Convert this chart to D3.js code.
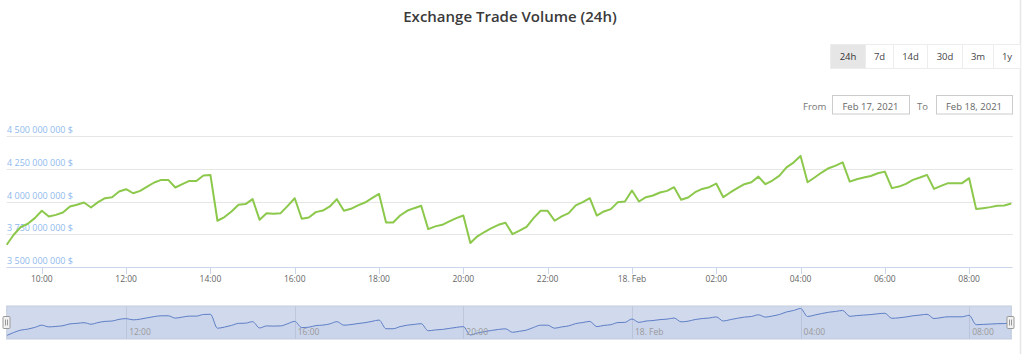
<!DOCTYPE html>
<html>
<head>
<meta charset="utf-8">
<script src="https://cdn.jsdelivr.net/npm/d3@7"></script>
<style>
  body { margin: 0; background: #fff; }
  svg { display: block; font-family: "Open Sans", sans-serif; }
</style>
</head>
<body>
<div id="chart"></div>
<script>
const chartTitle = 'Exchange Trade Volume (24h)';
const rangeButtons = ['24h', '7d', '14d', '30d', '3m', '1y'];
const selectedRange = '24h';
const fromDate = 'Feb 17, 2021';
const toDate = 'Feb 18, 2021';

// one reading every 10 minutes, starting Feb 17 09:10
const firstTime = new Date(2021, 1, 17, 9, 10);
const stepMinutes = 10;

// trade volume, millions of $
const volumes = [
  3670, 3746, 3805, 3830, 3873, 3929, 3886, 3898, 3916, 3962, 3975, 3992,
  3954, 3995, 4025, 4033, 4076, 4094, 4063, 4081, 4114, 4145, 4165, 4165,
  4107, 4132, 4157, 4157, 4198, 4203, 3853, 3881, 3924, 3975, 3980, 4018,
  3860, 3911, 3906, 3911, 3967, 4025, 3868, 3878, 3919, 3931, 3962, 4018,
  3929, 3944, 3970, 3992, 4025, 4058, 3840, 3840, 3893, 3929, 3949, 3967,
  3789, 3810, 3822, 3848, 3873, 3893, 3683, 3734, 3767, 3797, 3822, 3838,
  3751, 3777, 3807, 3873, 3929, 3929, 3853, 3886, 3911, 3970, 3995, 4025,
  3893, 3924, 3942, 3995, 4000, 4084, 4000, 4033, 4046, 4069, 4081, 4109,
  4013, 4030, 4071, 4096, 4109, 4137, 4033, 4069, 4102, 4132, 4147, 4190,
  4132, 4160, 4198, 4261, 4297, 4348, 4147, 4183, 4221, 4254, 4274, 4299,
  4152, 4170, 4183, 4195, 4216, 4228, 4102, 4114, 4135, 4165, 4183, 4203,
  4096, 4119, 4140, 4140, 4140, 4178, 3942, 3949, 3957, 3967, 3970, 3985,
];

const yTicks = [3500, 3750, 4000, 4250, 4500];

const width = 1024;
const height = 354;
const plot = { left: 6.7, right: 1011.3, top: 136, bottom: 267 };
const nav = { top: 306, bottom: 339 };

const data = volumes.map((v, i) => ({
  time: d3.timeMinute.offset(firstTime, i * stepMinutes),
  value: v,
}));

const spaced = d3.formatLocale({ decimal: '.', thousands: ' ', grouping: [3], currency: ['', ' $'] });
const formatMoney = (v) => `${spaced.format(',')(v * 1e6)} $`;
const formatHour = (d) => (d.getHours() === 0 ? `${d.getDate()}. Feb` : d3.timeFormat('%H:%M')(d));

const svg = d3.select('#chart').append('svg')
  .attr('width', width)
  .attr('height', height);

const x = d3.scaleTime()
  .domain(d3.extent(data, (d) => d.time))
  .range([plot.left, plot.right]);

const y = d3.scaleLinear()
  .domain([yTicks[0], yTicks[yTicks.length - 1]])
  .range([plot.bottom, plot.top]);

// title
svg.append('text')
  .attr('x', 510)
  .attr('y', 21.5)
  .attr('text-anchor', 'middle')
  .attr('font-size', 15)
  .attr('font-weight', 600)
  .attr('fill', '#3a3a3a')
  .text(chartTitle);

// page border on the right
svg.append('line')
  .attr('x1', 1020.5).attr('x2', 1020.5)
  .attr('y1', 0).attr('y2', height)
  .attr('stroke', '#e6e6e6')
  .attr('stroke-width', 1.5);

// range selector
const buttonEdges = [830, 865, 893, 927, 962, 993, 1020];
const buttons = svg.append('g').attr('class', 'range-buttons')
  .selectAll('g')
    .data(rangeButtons)
  .enter().append('g');

buttons.append('rect')
  .attr('x', (d, i) => buttonEdges[i] + 0.5)
  .attr('y', 44.5)
  .attr('width', (d, i) => buttonEdges[i + 1] - buttonEdges[i])
  .attr('height', 24)
  .attr('fill', (d) => (d === selectedRange ? '#e6e6e6' : '#fff'))
  .attr('stroke', '#ededed');

buttons.append('text')
  .attr('x', (d, i) => (buttonEdges[i] + buttonEdges[i + 1]) / 2 + 0.5)
  .attr('y', 60)
  .attr('text-anchor', 'middle')
  .attr('font-size', 9.5)
  .attr('fill', (d) => (d === selectedRange ? '#333' : '#444'))
  .text((d) => d);

// date inputs
const inputs = [
  { label: 'From', labelX: 803, boxX: 832, boxW: 77, value: fromDate },
  { label: 'To', labelX: 917, boxX: 936, boxW: 76, value: toDate },
];
const inputGroup = svg.append('g').attr('class', 'inputs')
  .selectAll('g')
    .data(inputs)
  .enter().append('g');

inputGroup.append('text')
  .attr('x', (d) => d.labelX)
  .attr('y', 110)
  .attr('font-size', 9.5)
  .attr('fill', '#777')
  .text((d) => d.label);

inputGroup.append('rect')
  .attr('x', (d) => d.boxX + 0.5)
  .attr('y', 95.5)
  .attr('width', (d) => d.boxW)
  .attr('height', 18.5)
  .attr('fill', '#fff')
  .attr('stroke', '#ccc');

inputGroup.append('text')
  .attr('x', (d) => d.boxX + d.boxW / 2)
  .attr('y', 110)
  .attr('text-anchor', 'middle')
  .attr('font-size', 9.5)
  .attr('fill', '#666')
  .text((d) => d.value);

// y grid + labels
const yAxis = svg.append('g').attr('class', 'y-axis');
yAxis.selectAll('line')
    .data(yTicks)
  .enter().append('line')
    .attr('x1', plot.left)
    .attr('x2', plot.right + 1.5)
    .attr('y1', (d) => Math.round(y(d)) + 0.5)
    .attr('y2', (d) => Math.round(y(d)) + 0.5)
    .attr('stroke', '#e6e6e6');

yAxis.selectAll('text')
    .data(yTicks)
  .enter().append('text')
    .attr('x', 7)
    .attr('y', (d) => y(d) - 3)
    .attr('font-size', 9)
    .attr('fill', '#8fbaee')
    .text(formatMoney);

// x axis
const xTicks = x.ticks(d3.timeHour.every(2));
const xAxis = svg.append('g').attr('class', 'x-axis');
xAxis.append('line')
  .attr('x1', plot.left)
  .attr('x2', plot.right + 1)
  .attr('y1', plot.bottom + 0.5)
  .attr('y2', plot.bottom + 0.5)
  .attr('stroke', '#ccd6eb');

xAxis.selectAll('.tick')
    .data(xTicks)
  .enter().append('line')
    .attr('class', 'tick')
    .attr('x1', (d) => Math.round(x(d)) + 0.5)
    .attr('x2', (d) => Math.round(x(d)) + 0.5)
    .attr('y1', plot.bottom)
    .attr('y2', plot.bottom + 7)
    .attr('stroke', '#ccd6eb');

xAxis.selectAll('text')
    .data(xTicks)
  .enter().append('text')
    .attr('x', (d) => x(d))
    .attr('y', 281.5)
    .attr('text-anchor', 'middle')
    .attr('font-size', 8.5)
    .attr('fill', '#666')
    .text(formatHour);

// main series
const line = d3.line()
  .x((d) => x(d.time))
  .y((d) => y(d.value));

svg.append('path')
  .datum(data)
  .attr('fill', 'none')
  .attr('stroke', '#8cc84b')
  .attr('stroke-width', 2)
  .attr('stroke-linejoin', 'round')
  .attr('d', line);

// navigator
const navY = d3.scaleLinear()
  .domain(d3.extent(data, (d) => d.value))
  .range([nav.bottom - 3.5, nav.top + 2.5]);
const navTicks = x.ticks(d3.timeHour.every(4));
const navigator = svg.append('g').attr('class', 'navigator');

navigator.selectAll('line.grid')
    .data(navTicks)
  .enter().append('line')
    .attr('class', 'grid')
    .attr('x1', (d) => Math.round(x(d)) + 0.5)
    .attr('x2', (d) => Math.round(x(d)) + 0.5)
    .attr('y1', nav.top)
    .attr('y2', nav.bottom)
    .attr('stroke', '#e6e6e6');

navigator.append('path')
  .datum(data)
  .attr('fill', '#335cad')
  .attr('fill-opacity', 0.05)
  .attr('d', d3.area()
    .x((d) => x(d.time))
    .y0(nav.bottom)
    .y1((d) => navY(d.value)));

navigator.append('path')
  .datum(data)
  .attr('fill', 'none')
  .attr('stroke', '#5a7cc8')
  .attr('stroke-width', 1)
  .attr('d', d3.line()
    .curve(d3.curveMonotoneX)
    .x((d) => x(d.time))
    .y((d) => navY(d.value)));

// selected range mask covers the whole 24h
navigator.append('rect')
  .attr('x', plot.left)
  .attr('y', nav.top)
  .attr('width', plot.right - plot.left)
  .attr('height', nav.bottom - nav.top)
  .attr('fill', 'rgba(102,133,194,0.3)')
  .attr('stroke', '#c4cbdb');

navigator.selectAll('text')
    .data(navTicks)
  .enter().append('text')
    .attr('x', (d) => x(d) + 3)
    .attr('y', 335)
    .attr('font-size', 8.5)
    .attr('fill', '#9a9a9a')
    .text(formatHour);

// handles
const handles = navigator.selectAll('g.handle')
    .data([plot.left, plot.right])
  .enter().append('g')
    .attr('class', 'handle')
    .attr('transform', (d) => `translate(${Math.round(d) - 0.5}, 316.5)`);

handles.append('rect')
  .attr('x', -3.5)
  .attr('width', 7)
  .attr('height', 12)
  .attr('rx', 1)
  .attr('fill', '#f2f2f2')
  .attr('stroke', '#999');

handles.selectAll('line')
    .data([-1, 1])
  .enter().append('line')
    .attr('x1', (d) => d)
    .attr('x2', (d) => d)
    .attr('y1', 3)
    .attr('y2', 9)
    .attr('stroke', '#999');
</script>
</body>
</html>
